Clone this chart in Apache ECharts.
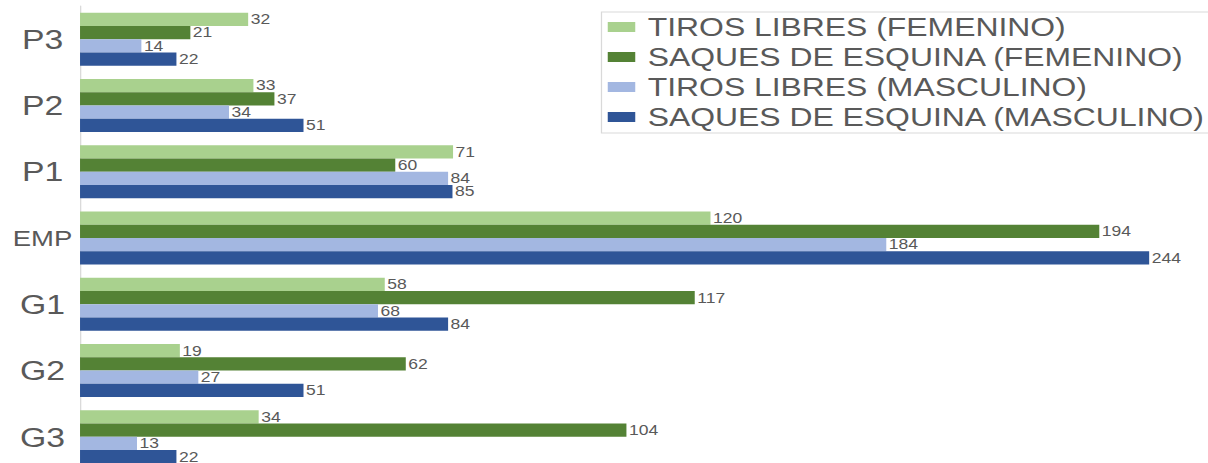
<!DOCTYPE html>
<html>
<head>
<meta charset="utf-8">
<script src="https://cdn.jsdelivr.net/npm/echarts@6/dist/echarts.min.js"></script>
<style>
  html, body { margin: 0; padding: 0; background: #ffffff; overflow: hidden; }
  #wrap { width: 1208px; height: 463px; overflow: hidden; }
  #chart { width: 966px; height: 480px; transform: scaleX(1.2505); transform-origin: 0 0; }
</style>
</head>
<body>
<div id="wrap"><div id="chart"></div></div>
<script>
const categories = ['P3', 'P2', 'P1', 'EMP', 'G1', 'G2', 'G3'];
const seriesNames = [
  'TIROS LIBRES (FEMENINO)',
  'SAQUES DE ESQUINA (FEMENINO)',
  'TIROS LIBRES (MASCULINO)',
  'SAQUES DE ESQUINA (MASCULINO)'
];
const tirosFemenino = [32, 33, 71, 120, 58, 19, 34];
const saquesFemenino = [21, 37, 60, 194, 117, 62, 104];
const tirosMasculino = [14, 34, 84, 184, 68, 27, 13];
const saquesMasculino = [22, 51, 85, 244, 84, 51, 22];

const colors = ['#a9d18e', '#548235', '#a3b7e1', '#2f5597'];
const font = "'Liberation Sans', Arial, sans-serif";

const chart = echarts.init(document.getElementById('chart'), null, { renderer: 'svg' });

function barSeries(name, data, axisIndex, color) {
  return {
    name: name,
    type: 'bar',
    xAxisIndex: axisIndex,
    data: data,
    barGap: '0%',
    barCategoryGap: '20%',
    itemStyle: { color: color },
    label: {
      show: true,
      position: 'right',
      distance: 2,
      color: '#595959',
      fontFamily: font,
      fontSize: 14
    },
    emphasis: { disabled: true }
  };
}

chart.setOption({
  animation: false,
  backgroundColor: '#ffffff',
  grid: { left: 64, right: 26, top: 6, height: 464, containLabel: false },
  xAxis: [
    { type: 'value', min: 0, max: 208.5, show: false },
    { type: 'value', min: 0, max: 250, show: false }
  ],
  yAxis: {
    type: 'category',
    inverse: true,
    data: categories,
    axisLine: { show: true, lineStyle: { color: '#d9d9d9', width: 1 } },
    axisTick: { show: false },
    splitLine: { show: false },
    axisLabel: {
      align: 'center',
      margin: 30,
      color: '#595959',
      fontFamily: font,
      fontSize: 27,
      formatter: function (v) { return v === 'EMP' ? '{s|' + v + '}' : v; },
      rich: { s: { fontSize: 22, fontFamily: font, color: '#595959' } }
    }
  },
  legend: {
    orient: 'vertical',
    left: 481,
    top: 12,
    padding: [2, 6, 3, 5],
    itemGap: 4,
    itemWidth: 22,
    itemHeight: 10,
    borderColor: '#d9d9d9',
    borderWidth: 1,
    backgroundColor: '#ffffff',
    icon: 'rect',
    data: seriesNames,
    textStyle: {
      color: '#595959',
      fontFamily: font,
      fontSize: 25.5,
      lineHeight: 25,
      padding: [0, 0, 0, 5]
    }
  },
  series: [
    barSeries(seriesNames[0], tirosFemenino, 0, colors[0]),
    barSeries(seriesNames[1], saquesFemenino, 0, colors[1]),
    barSeries(seriesNames[2], tirosMasculino, 1, colors[2]),
    barSeries(seriesNames[3], saquesMasculino, 1, colors[3])
  ]
});
</script>
</body>
</html>
